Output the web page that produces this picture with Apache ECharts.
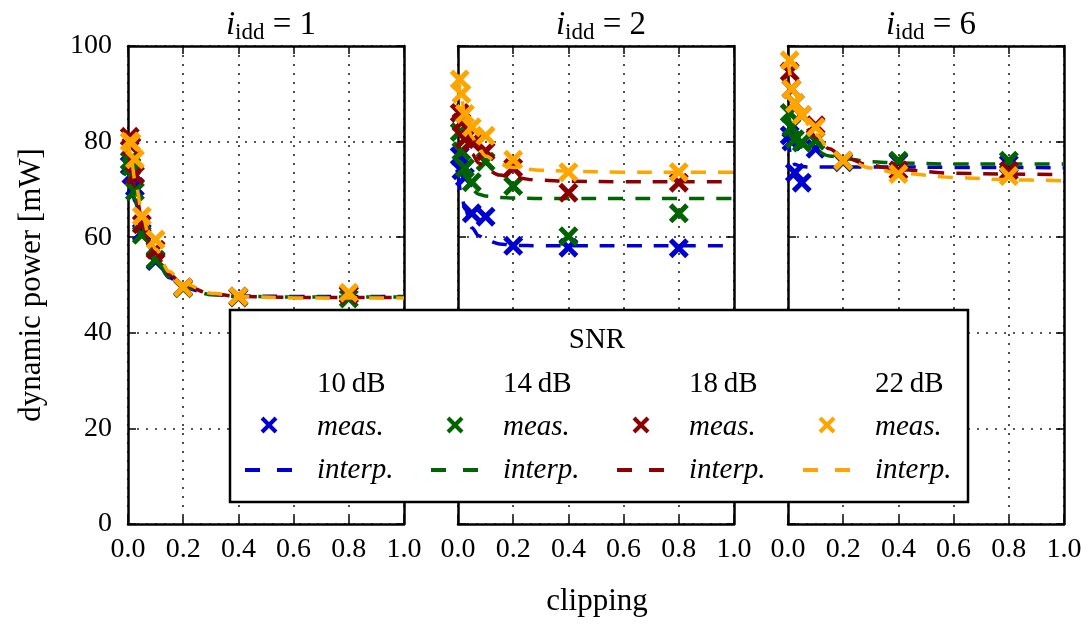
<!DOCTYPE html>
<html><head><meta charset="utf-8">
<script src="https://cdn.jsdelivr.net/npm/echarts@6/dist/echarts.min.js"></script>
<style>html,body{margin:0;padding:0;background:#fff}#c{width:1088px;height:626px}</style>
</head><body><div id="c"></div>
<script>
// ---------------- data ----------------
const PANEL_IDD = ['1', '2', '6'];
const SNR_LABELS = ['10\u2009dB', '14\u2009dB', '18\u2009dB', '22\u2009dB'];
const COLORS = ['#0000d0', '#006400', '#8b0000', '#ffa500'];
const X_MEAS = [0.00625, 0.0125, 0.025, 0.05, 0.1, 0.2, 0.4, 0.8];
const X_INTERP = [0, 0.0125, 0.025, 0.05, 0.075, 0.1, 0.15, 0.2, 0.3, 0.4, 0.6, 0.8, 1.0];

// i_idd = 1
const MEAS_I1_10 = [75, 73, 70.5, 61, 55, 49.5, 47.6, 48];
const MEAS_I1_14 = [76, 74.8, 69.6, 60.5, 55.3, 49.3, 47.4, 47.2];
const MEAS_I1_18 = [81, 79, 73, 62.7, 57.4, 49.5, 47.5, 48];
const MEAS_I1_22 = [80, 79.8, 76.3, 64.4, 59.5, 49.5, 47.6, 48.4];
const INTERP_I1_10 = [74, 70.5, 67.5, 62, 58, 55.3, 51.5, 49.5, 48, 47.7, 47.6, 47.6, 47.6];
const INTERP_I1_14 = [75, 71, 68, 62.5, 58.3, 55.5, 51.7, 49.6, 48, 47.6, 47.5, 47.5, 47.5];
const INTERP_I1_18 = [79, 74.5, 70.5, 64, 59.5, 56.5, 52.2, 50, 48.2, 47.6, 47.4, 47.4, 47.4];
const INTERP_I1_22 = [81, 76, 72, 65.5, 60.5, 57.5, 52.8, 50.3, 48.3, 47.6, 47.3, 47.3, 47.3];

// i_idd = 2
const MEAS_I2_10 = [77, 74, 72.5, 65, 64.3, 58.2, 57.8, 57.7];
const MEAS_I2_14 = [82, 78, 74.5, 71.5, 75.8, 70.7, 60.2, 65];
const MEAS_I2_18 = [86, 84, 80.5, 79.9, 78, 74.5, 69.3, 71.4];
const MEAS_I2_22 = [93, 90, 85.8, 83, 81.2, 76.2, 73.6, 73.6];
const INTERP_I2_10 = [73, 69, 66, 62, 60.3, 59.4, 58.6, 58.3, 58.2, 58.2, 58.2, 58.2, 58.2];
const INTERP_I2_14 = [80, 76, 73, 70, 69, 68.6, 68.3, 68.2, 68.1, 68.1, 68.1, 68.1, 68.1];
const INTERP_I2_18 = [88, 84, 81, 77.5, 75.5, 74.3, 73, 72.4, 71.9, 71.7, 71.6, 71.6, 71.6];
const INTERP_I2_22 = [94, 89, 85.5, 81, 78.5, 77, 75.3, 74.6, 74, 73.8, 73.6, 73.6, 73.6];

// i_idd = 6
const MEAS_I6_10 = [81.3, 80, 73.5, 71.4, 78.5, 75.7, 75.7, 75.3];
const MEAS_I6_14 = [86, 83, 80.5, 79.8, 80.2, 75.8, 76, 76];
const MEAS_I6_18 = [94.6, 91, 88, 85.5, 83.4, 76, 74, 73.9];
const MEAS_I6_22 = [97, 91, 88, 85.5, 83, 76, 73.2, 72.8];
const INTERP_I6_10 = [81, 76.5, 75.2, 74.8, 74.7, 74.7, 74.7, 74.7, 74.7, 74.7, 74.6, 74.6, 74.5];
const INTERP_I6_14 = [86, 83.5, 82, 80, 78.8, 78, 77, 76.5, 75.8, 75.5, 75.3, 75.3, 75.3];
const INTERP_I6_18 = [93, 90, 87.5, 84.5, 82.5, 81, 78.5, 76.7, 75, 74.1, 73.4, 73.2, 73.1];
const INTERP_I6_22 = [97, 93, 90, 86, 83.5, 81.5, 78.5, 76.5, 74.5, 73.4, 72.5, 72.0, 71.8];

const MEAS = [
  [MEAS_I1_10, MEAS_I1_14, MEAS_I1_18, MEAS_I1_22],
  [MEAS_I2_10, MEAS_I2_14, MEAS_I2_18, MEAS_I2_22],
  [MEAS_I6_10, MEAS_I6_14, MEAS_I6_18, MEAS_I6_22]
];
const INTERP = [
  [INTERP_I1_10, INTERP_I1_14, INTERP_I1_18, INTERP_I1_22],
  [INTERP_I2_10, INTERP_I2_14, INTERP_I2_18, INTERP_I2_22],
  [INTERP_I6_10, INTERP_I6_14, INTERP_I6_18, INTERP_I6_22]
];

// ---------------- layout / style ----------------
const FONT = 'Liberation Serif';
const GRID_LEFTS = [128, 458, 788];
const GRID_TOP = 46, GRID_W = 276, GRID_H = 478;
const CROSS = 'path://M0,1.8 L1.8,0 L5,3.2 L8.2,0 L10,1.8 L6.8,5 L10,8.2 L8.2,10 L5,6.8 L1.8,10 L0,8.2 L3.2,5 Z';
const frameLine = {show: true, onZero: false, lineStyle: {color: '#000', width: 2.5}};
const tick = {show: true, inside: true, length: 8, lineStyle: {color: '#000', width: 1.5}};
const dotted = {show: true, lineStyle: {type: [2, 7], color: '#222', width: 1.6}};

const grid = [], xAxis = [], yAxis = [], series = [], title = [];
GRID_LEFTS.forEach((l, p) => {
  grid.push({left: l, top: GRID_TOP, width: GRID_W, height: GRID_H});
  xAxis.push({
    type: 'value', gridIndex: p, min: 0, max: 1, interval: 0.2, position: 'bottom',
    axisLine: frameLine, axisTick: tick, splitLine: dotted,
    axisLabel: {show: true, formatter: v => v.toFixed(1), fontFamily: FONT, fontSize: 28, color: '#000', margin: 12}
  });
  xAxis.push({
    type: 'value', gridIndex: p, min: 0, max: 1, interval: 0.2, position: 'top',
    axisLine: frameLine, axisTick: tick, splitLine: {show: false}, axisLabel: {show: false}
  });
  yAxis.push({
    type: 'value', gridIndex: p, min: 0, max: 100, interval: 20, position: 'left',
    axisLine: frameLine, axisTick: tick, splitLine: dotted,
    axisLabel: {show: p === 0, fontFamily: FONT, fontSize: 28, color: '#000', margin: 16}
  });
  yAxis.push({
    type: 'value', gridIndex: p, min: 0, max: 100, interval: 20, position: 'right',
    axisLine: frameLine, axisTick: tick, splitLine: {show: false}, axisLabel: {show: false}
  });
  title.push({
    text: '{i|i}{s|idd}{n| = ' + PANEL_IDD[p] + '}',
    left: l + GRID_W / 2, top: 1, textAlign: 'center',
    textStyle: {
      fontWeight: 'normal',
      rich: {
        i: {fontFamily: FONT, fontSize: 33, fontStyle: 'italic', fontWeight: 'normal', color: '#000', lineHeight: 38},
        s: {fontFamily: FONT, fontSize: 23, fontWeight: 'normal', color: '#000', lineHeight: 17, verticalAlign: 'bottom'},
        n: {fontFamily: FONT, fontSize: 33, fontWeight: 'normal', color: '#000', lineHeight: 38}
      }
    }
  });
  for (let s = 0; s < 4; s++) {
    series.push({
      type: 'line', xAxisIndex: p * 2, yAxisIndex: p * 2,
      data: X_INTERP.map((x, i) => [x, INTERP[p][s][i]]),
      showSymbol: false, symbol: 'none', smooth: 0.35, smoothMonotone: 'x',
      lineStyle: {color: COLORS[s], width: 3.5, type: [15, 12]}, z: 2 + s
    });
  }
  for (let s = 0; s < 4; s++) {
    series.push({
      type: 'scatter', xAxisIndex: p * 2, yAxisIndex: p * 2,
      data: X_MEAS.map((x, i) => [x, MEAS[p][s][i]]),
      symbol: CROSS, symbolSize: 20, itemStyle: {color: COLORS[s], opacity: 1}, z: 2 + s
    });
  }
});

// ---------------- legend (drawn) ----------------
const LEG_X = 230, LEG_Y = 310, LEG_W = 738, LEG_H = 192;
const COL_TEXT_X = [317, 503, 689, 875];
const COL_MARK_X = [269, 455, 641, 827];
const LZ = 100;
const legendEls = [
  {type: 'rect', z: LZ, shape: {x: LEG_X, y: LEG_Y, width: LEG_W, height: LEG_H}, style: {fill: '#fff', stroke: '#000', lineWidth: 2.5}},
  {type: 'text', z: LZ + 1, x: 597, y: 340, style: {text: 'SNR', fontFamily: FONT, fontSize: 29, fill: '#000', align: 'center', verticalAlign: 'middle'}}
];
SNR_LABELS.forEach((lab, s) => {
  const tx = COL_TEXT_X[s], mx = COL_MARK_X[s];
  legendEls.push({type: 'text', z: LZ + 1, x: tx, y: 384, style: {text: lab, fontFamily: FONT, fontSize: 29, fill: '#000', align: 'left', verticalAlign: 'middle'}});
  legendEls.push({type: 'text', z: LZ + 1, x: tx, y: 427, style: {text: 'meas.', fontFamily: FONT, fontSize: 29, fontStyle: 'italic', fill: '#000', align: 'left', verticalAlign: 'middle'}});
  legendEls.push({type: 'text', z: LZ + 1, x: tx, y: 470, style: {text: 'interp.', fontFamily: FONT, fontSize: 29, fontStyle: 'italic', fill: '#000', align: 'left', verticalAlign: 'middle'}});
  legendEls.push({type: 'line', z: LZ + 1, shape: {x1: mx - 7, y1: 418, x2: mx + 7, y2: 432}, style: {stroke: COLORS[s], lineWidth: 4}});
  legendEls.push({type: 'line', z: LZ + 1, shape: {x1: mx - 7, y1: 432, x2: mx + 7, y2: 418}, style: {stroke: COLORS[s], lineWidth: 4}});
  legendEls.push({type: 'line', z: LZ + 1, shape: {x1: mx - 24, y1: 470, x2: mx + 25, y2: 470}, style: {stroke: COLORS[s], lineWidth: 4, lineDash: [15, 17]}});
});

const chart = echarts.init(document.getElementById('c'), null, {renderer: 'canvas'});
chart.setOption({
  animation: false,
  backgroundColor: '#fff',
  title: title,
  grid: grid, xAxis: xAxis, yAxis: yAxis, series: series,
  graphic: [
    {type: 'text', x: 32, y: 285, rotation: Math.PI / 2,
     style: {text: 'dynamic power [mW]', fontFamily: FONT, fontSize: 31, fill: '#000', align: 'center', verticalAlign: 'middle'}},
    {type: 'text', x: 597, y: 602,
     style: {text: 'clipping', fontFamily: FONT, fontSize: 31, fill: '#000', align: 'center', verticalAlign: 'middle'}},
    {type: 'group', z: LZ, children: legendEls}
  ]
});
</script>
</body></html>
